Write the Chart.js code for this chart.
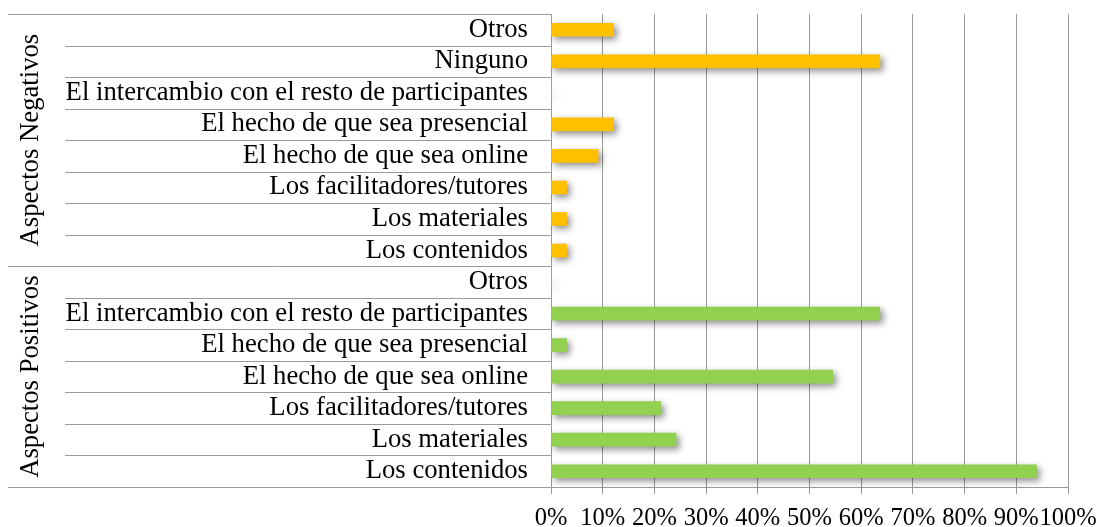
<!DOCTYPE html>
<html>
<head>
<meta charset="utf-8">
<script src="https://cdn.jsdelivr.net/npm/chart.js@4.4.0/dist/chart.umd.min.js"></script>
<style>
    html, body { margin: 0; padding: 0; background: #fff; }
</style>
</head>
<body>
<canvas id="chart" width="1100" height="527"></canvas>
<script>
// Datos (porcentajes de respuestas)
const negLabels = ['Otros', 'Ninguno', 'El intercambio con el resto de participantes', 'El hecho de que sea presencial',
    'El hecho de que sea online', 'Los facilitadores/tutores', 'Los materiales', 'Los contenidos'];
const negValues = [12.1, 63.6, 0, 12.1, 9.1, 3.0, 3.0, 3.0];

const posLabels = ['Otros', 'El intercambio con el resto de participantes', 'El hecho de que sea presencial',
    'El hecho de que sea online', 'Los facilitadores/tutores', 'Los materiales', 'Los contenidos'];
const posValues = [0, 63.6, 3.0, 54.5, 21.2, 24.2, 93.9];

const groupLabels = ['Aspectos Negativos', 'Aspectos Positivos'];
const xTickValues = [0, 10, 20, 30, 40, 50, 60, 70, 80, 90, 100];

const labels = negLabels.concat(posLabels);
const values = negValues.concat(posValues);
const colors = negValues.map(() => '#FFC000').concat(posValues.map(() => '#92D050'));

const FONT = "'Liberation Serif', 'Times New Roman', serif";
const FSIZE = 26.7;
const LINE = '#9a9a9a';

// Sombra de las barras
const shadowPlugin = {
    id: 'barShadow',
    beforeDatasetsDraw(chart) {
        const ctx = chart.ctx;
        ctx.save();
        ctx.shadowColor = 'rgba(0,0,0,0.45)';
        ctx.shadowBlur = 7;
        ctx.shadowOffsetX = 3;
        ctx.shadowOffsetY = 3;
    },
    afterDatasetsDraw(chart) {
        chart.ctx.restore();
    }
};

// Líneas separadoras y etiquetas de grupo (eje de categorías multinivel)
const groupPlugin = {
    id: 'groups',
    afterDraw(chart) {
        const ctx = chart.ctx;
        const y = chart.scales.y;
        const area = chart.chartArea;
        const step = (y.bottom - y.top) / labels.length;
        const bounds = [0, negLabels.length, labels.length];
        ctx.save();
        ctx.strokeStyle = LINE;
        ctx.lineWidth = 1;
        for (let i = 0; i <= labels.length; i++) {
            const py = Math.round(y.top + i * step) + 0.5;
            const x0 = bounds.includes(i) ? 8 : 65;
            ctx.beginPath();
            ctx.moveTo(x0, py);
            ctx.lineTo(area.left, py);
            ctx.stroke();
        }
        ctx.fillStyle = '#000';
        ctx.font = FSIZE + 'px ' + FONT;
        ctx.textAlign = 'center';
        ctx.textBaseline = 'middle';
        for (let g = 0; g < groupLabels.length; g++) {
            const cy = y.top + (bounds[g] + bounds[g + 1]) / 2 * step;
            ctx.save();
            ctx.translate(31, cy);
            ctx.rotate(-Math.PI / 2);
            ctx.fillText(groupLabels[g], 0, 0);
            ctx.restore();
        }
        ctx.restore();
    }
};

new Chart(document.getElementById('chart'), {
    type: 'bar',
    data: {
        labels: labels,
        datasets: [{
            data: values,
            backgroundColor: colors,
            borderWidth: 0,
            barThickness: 13
        }]
    },
    options: {
        indexAxis: 'y',
        responsive: false,
        animation: false,
        devicePixelRatio: 1,
        layout: { padding: { top: 14, right: 32, left: 0, bottom: 0 } },
        plugins: {
            legend: { display: false },
            tooltip: { enabled: false }
        },
        scales: {
            x: {
                min: 0,
                max: 100,
                afterBuildTicks(scale) {
                    scale.ticks = xTickValues.map(v => ({ value: v }));
                },
                afterFit(scale) {
                    scale.height = 40;
                    scale.paddingLeft = 0;
                    scale.paddingRight = 0;
                },
                grid: { color: LINE, tickLength: 7, lineWidth: 1 },
                border: { color: LINE },
                ticks: {
                    autoSkip: false,
                    maxRotation: 0,
                    padding: 10,
                    color: '#000',
                    font: { family: FONT, size: 24.5 },
                    callback: v => v + '%'
                }
            },
            y: {
                afterFit(scale) {
                    scale.width = 551;
                    scale.paddingTop = 0;
                    scale.paddingBottom = 0;
                },
                grid: { display: false },
                border: { color: LINE },
                ticks: {
                    autoSkip: false,
                    padding: 15,
                    color: '#000',
                    font: { family: FONT, size: FSIZE }
                }
            }
        }
    },
    plugins: [shadowPlugin, groupPlugin]
});
</script>
</body>
</html>
